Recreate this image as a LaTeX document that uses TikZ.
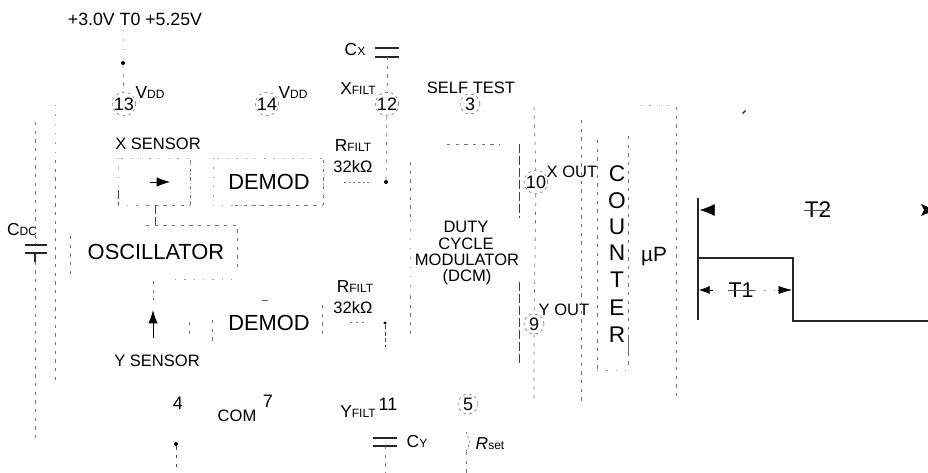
\documentclass[tikz,border=0pt]{standalone}
\usepackage{fontspec}
\setmainfont{Liberation Sans}
\usetikzlibrary{arrows.meta}
\newcommand{\fz}[1]{\fontsize{#1}{#1}\selectfont}
\newcommand{\bs}[2]{{\fz{13}#1}{\fz{9}#2}}
\tikzset{
  x=0.75pt,y=-0.75pt,
  lab/.style={inner sep=0pt,text=black,font=\fz{12.4}},
  big/.style={inner sep=0pt,text=black,font=\fz{16.4}},
  pin/.style={circle,minimum size=15pt,inner sep=0pt,text=black,font=\fz{13.5},draw=black!60,line width=.4pt,dash pattern=on 2pt off 2.5pt},
  faint/.style={draw=black!55,line width=.5pt,dash pattern=on 2.5pt off 4pt},
  fainter/.style={draw=black!38,line width=.4pt,dash pattern=on 1pt off 6pt},
  strong/.style={draw=black!75,line width=.7pt,dash pattern=on 7pt off 2pt},
  solidl/.style={draw=black!85,line width=1pt},
  dot/.style={circle,fill=black,inner sep=0pt,minimum size=3pt},
  plate/.style={draw=black!85,line width=.9pt},
  tipr/.style={-{Latex[length=10pt,width=7pt]},draw=black,line width=.5pt},
}
\begin{document}
\begin{tikzpicture}
\useasboundingbox (0,0) rectangle (928,473);

% text
\node[lab,font=\fz{13.3}] (supply) at (135,19) {+3.0V T0 +5.25V};
\node[lab] (xsens) at (158,144) {X SENSOR};
\node[lab] (ysens) at (157,361) {Y SENSOR};
\node[lab] (selft) at (471,88) {SELF TEST};
\node[lab] (xout) at (572,172) {X OUT};
\node[lab] (yout) at (564,310) {Y OUT};
\node[lab] (duty) at (466,227) {DUTY};
\node[lab] (cycle) at (466,244) {CYCLE};
\node[lab] (modu) at (467,260) {MODULATOR};
\node[lab] (dcm) at (467,277) {(DCM)};
\node[lab] (com) at (237,416) {COM};
\node[lab] (vdda) at (150,93) {\bs{V}{DD}};
\node[lab] (vddb) at (293,93) {\bs{V}{DD}};
\node[lab] (cdc) at (22,230) {\bs{C}{DC}};
\node[lab] (cx) at (355,50) {\bs{C}{X}};
\node[lab] (cy) at (417,442) {\bs{C}{Y}};
\node[lab] (xfilt) at (358,89) {\bs{X}{FILT}};
\node[lab] (yfilt) at (358,412) {\bs{Y}{FILT}};
\node[lab] (rfa) at (353,146) {\bs{R}{FILT}};
\node[lab] (rfb) at (355,287) {\bs{R}{FILT}};
\node[lab] (ka) at (353,167) {32kΩ};
\node[lab] (kb) at (353,308) {32kΩ};
\node[lab] (rset) at (490,444) {{\fz{13}\itshape R}{\fz{9}set}};

\node[big] (demoda) at (269,182) {DEMOD};
\node[big] (demodb) at (269,323) {DEMOD};
\node[big] (osc) at (156,252) {OSCILLATOR};
\node[big,font=\fz{17}] (lc) at (617,174) {C};
\node[big,font=\fz{17}] (lo) at (617,201) {O};
\node[big,font=\fz{17}] (lu) at (617,227) {U};
\node[big,font=\fz{17}] (ln) at (617,253) {N};
\node[big,font=\fz{17}] (lt) at (617,280) {T};
\node[big,font=\fz{17}] (le) at (617,308) {E};
\node[big,font=\fz{17}] (lr) at (617,335) {R};
\node[big,font=\fz{15.5}] (up) at (654,257) {µP};
\node[big,font=\fz{17}] (t2) at (818,210) {T2};
\node[big,font=\fz{16}] (t1) at (741,290) {T1};

% pins
\node[pin] (p13) at (124,104) {13};
\node[pin] (p14) at (267,104) {14};
\node[pin] (p12) at (387,104) {12};
\node[pin] (p3) at (470,104) {3};
\node[pin] (p10) at (536,182) {10};
\node[pin] (p9) at (534,324) {9};
\node[pin] (p5) at (468,404) {5};
\node[pin,draw=none] (p11) at (388,404) {11};
\node[pin,draw=none] (p4) at (178,403) {4};
\node[pin,draw=none] (p7) at (268,401) {7};

% supply
\node[dot] (vdot) at (123,63) {};
\coordinate (vt) at (123,30);
\draw[fainter] (vt) -- (vdot);
\draw[faint] (vdot) -- (p13);

% chip outline and outer lines
\coordinate (cta) at (55,105);
\coordinate (cba) at (55,380); \coordinate (cbb) at (534,402);
\draw[faint] (55,160) -- (cba);
\draw[fainter] (cta) -- (55,160);
\draw[faint] (534,107) -- (p10);
\draw[faint] (p10) -- (p9) -- (cbb);

% CDC
\coordinate (c1) at (35,122); \coordinate (c2) at (35,245);
\coordinate (c3) at (35,253); \coordinate (c4) at (35,438);
\draw[faint] (c1) -- (c2);
\draw[faint] (c3) -- (c4);
\draw[plate] (25,245) -- (47,245);
\draw[plate] (25,253) -- (47,253);
\draw[solidl,line width=.8pt] (c3) -- (35,262);

% sensors and demods
\coordinate (xs1) at (118,158); \coordinate (xs2) at (190,205);
\draw[fainter] (xs1) rectangle (xs2);
\draw[faint] (190,160) -- (xs2);
\draw[strong] (118,190) -- (118,205);
\draw[faint] (146,205) -- (190,205);
\coordinate (da1) at (213,158); \coordinate (da2) at (323,205);
\draw[fainter] (da1) rectangle (da2);
\draw[faint] (323,160) -- (da2);
\draw[faint] (235,205) -- (da2);
\coordinate (xa1) at (150,182); \coordinate (xa2) at (170,182);
\draw[tipr] (xa1) -- (xa2);
\coordinate (ys1) at (117,322); \coordinate (ys2) at (189,338);
\draw[faint] (189,322) -- (ys2);
\coordinate (db1) at (212,320); \coordinate (db2) at (212,342);
\draw[faint] (db1) -- (db2);
\coordinate (db3) at (322,305); \coordinate (db4) at (322,337);
\draw[faint] (db3) -- (db4);
\draw[black!60,line width=.5pt] (262,300) -- (268,300);

% oscillator
\coordinate (o1) at (70,236); \coordinate (o2) at (237,279);
\draw[faint] (o1) -- (70,275);
\draw[faint] (146,225) -- (237,225) -- (237,270);
\draw[fainter] (175,279) -- (232,279);
\draw[strong] (155,205) -- (155,225);
\draw[faint] (153,281) -- (153,300);
\coordinate (ya1) at (153,338); \coordinate (ya2) at (153,310);
\draw[tipr,line width=.7pt] (ya1) -- (ya2);

% X filter
\coordinate (cxa) at (375,48); \coordinate (cxb) at (399,48);
\coordinate (cxc) at (375,57); \coordinate (cxd) at (399,57);
\draw[plate] (cxa) -- (cxb);
\draw[plate] (cxc) -- (cxd);
\draw[faint] (387,57) -- (p12);
\node[dot] (xd) at (386,182) {};
\draw[faint] (p12) -- (xd);
\coordinate (rxa) at (344,182); \coordinate (rxb) at (372,182);
\draw[faint,dash pattern=on 1.5pt off 2pt] (rxa) -- (rxb);

% Y filter
\node[dot,minimum size=2.5pt] (yd) at (385,323) {};
\coordinate (ye) at (385,347);
\draw[strong,dash pattern=on 3pt off 2pt] (yd) -- (ye);
\coordinate (rya) at (350,322); \coordinate (ryb) at (366,322);
\draw[faint,dash pattern=on 1.5pt off 3pt] (rya) -- (ryb);
\coordinate (cya) at (373,438); \coordinate (cyb) at (397,438);
\coordinate (cyc) at (373,446); \coordinate (cyd) at (397,446);
\draw[plate] (cya) -- (cyb);
\draw[plate] (cyc) -- (cyd);
\coordinate (cye) at (385,446); \coordinate (cyf) at (385,473);
\draw[faint] (cye) -- (cyf);

% Rset
\coordinate (r1) at (466,432); \coordinate (r2) at (466,452);
\coordinate (r3) at (470,442); \coordinate (r4) at (466,473);
\draw[faint,dash pattern=on 1.5pt off 2pt] (r1) -- (r3) -- (r2);
\draw[faint] (r2) -- (r4);

% DCM
\draw[faint] (410,162) -- (410,220);
\draw[fainter] (410,220) -- (410,296);
\draw[faint] (410,296) -- (410,336);
\draw[strong] (519,144) -- (519,218);
\draw[strong] (519,282) -- (519,363);
\draw[faint] (447,144) -- (500,144);

% counter, uP
\draw[faint] (581,120) -- (581,402);
\draw[faint] (597,140) -- (597,370);
\draw[fainter] (597,370) -- (628,370);
\draw[faint] (628,136) -- (628,370);
\draw[strong,draw=black!60] (628,335) -- (628,358);
\draw[faint] (676,107) -- (676,400);
\draw[fainter] (640,105) -- (672,105);

% ground
\node[dot] (gd) at (176,444) {};
\coordinate (ge) at (176,470);
\draw[faint,draw=black!70] (gd) -- (ge);

% timing
\coordinate (wa) at (698,198); \coordinate (wb) at (698,258);
\coordinate (wc) at (793,258); \coordinate (wd) at (793,321);
\coordinate (we) at (928,321); \coordinate (wf) at (698,320);
\draw[solidl,line width=.9pt] (wa) -- (wf);
\draw[solidl,line width=1.1pt] (wb) -- (wc) -- (wd) -- (we);
\coordinate (t2l) at (700,210); \coordinate (t2s) at (715,210);
\coordinate (t1l) at (699,290); \coordinate (t1r) at (792,290);
\coordinate (t1s) at (713,290); \coordinate (t1e) at (778,290);
\draw[-{Latex[length=11pt,width=9pt]},draw=black,line width=.4pt] (t2s) -- (t2l);
\draw[-{Latex[length=8pt,width=6pt]},draw=black,line width=.4pt] (t1s) -- (t1l);
\draw[-{Latex[length=10pt,width=6pt]},draw=black,line width=.4pt] (t1e) -- (t1r);
\fill[black] (921,204) -- (928,207) -- (928,213) -- (921,216) -- (924,210) -- cycle;
\draw[black!70,line width=.5pt] (804,210) -- (830,210);
\draw[black!70,line width=.5pt] (728,290) -- (755,290);
\draw[fainter] (755,290) -- (t1e);
\fill[black!80] (742,113) -- (745,110) -- (746,111) -- (743,114) -- cycle;
\end{tikzpicture}
\end{document}
